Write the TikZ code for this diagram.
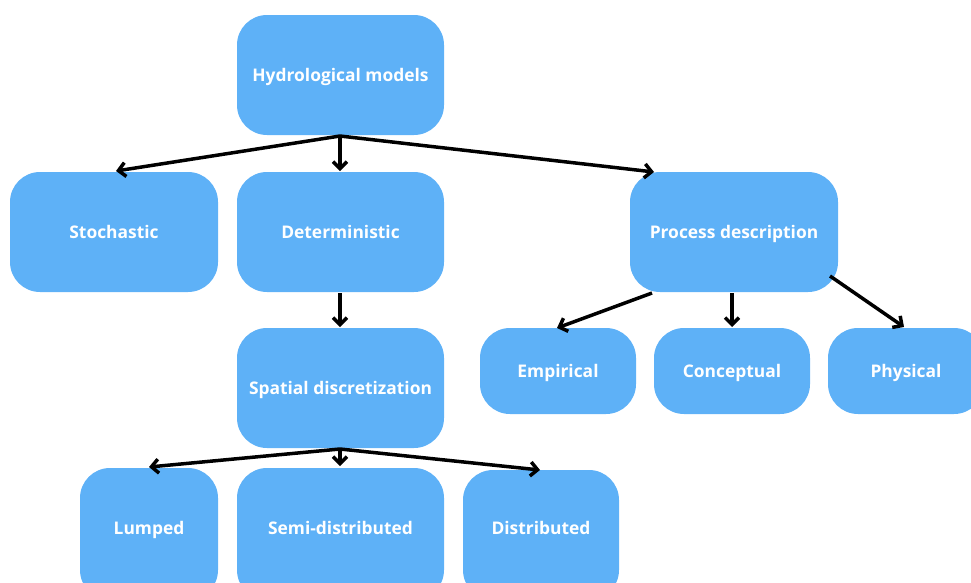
\documentclass[tikz,border=0pt]{standalone}
\usepackage{fontspec}
\setmainfont{Open Sans}
\usetikzlibrary{arrows.meta}
\definecolor{boxblue}{HTML}{5EB1F7}
\tikzset{
  box/.style={fill=boxblue, draw=none, rounded corners=30pt},
  lbl/.style={text=white, font=\fontsize{17.4}{20}\selectfont\bfseries, anchor=base, yshift=-6.5pt},
  conn/.style={line width=3.5pt, -{Straight Barb[length=7pt,width=14pt,line width=3.5pt]}, black},
}
\begin{document}
\begin{tikzpicture}[x=1pt,y=-1pt]
\useasboundingbox (0,0) rectangle (971,582);
% boxes
\path[box] (237,15) rectangle (444,135);
\node[lbl] (hm) at (340.5,75) {Hydrological models};
\coordinate (hms) at (340,136);
\path[box] (10,172) rectangle (218,292);
\node[lbl] (sto) at (114,232) {Stochastic};
\path[box] (237,172) rectangle (444,292);
\node[lbl] (det) at (340.5,232) {Deterministic};
\path[box] (630,172) rectangle (838,292);
\node[lbl] (pd) at (734,232) {Process description};
\path[box] (237,328) rectangle (444,448);
\node[lbl] (sd) at (340.5,388) {Spatial discretization};
\path[box] (480,328) rectangle (636,414);
\node[lbl] (emp) at (558,371) {Empirical};
\path[box] (654,328) rectangle (810,414);
\node[lbl] (con) at (732,371) {Conceptual};
\path[box] (828,328) rectangle (984,414);
\node[lbl] (phy) at (906,371) {Physical};
\path[box] (80,468) rectangle (218,600);
\node[lbl] (lum) at (149,528) {Lumped};
\path[box] (237,468) rectangle (444,600);
\node[lbl] (semi) at (340.5,528) {Semi-distributed};
\path[box] (463,470) rectangle (619,600);
\node[lbl] (dist) at (541,528) {Distributed};
% connector coordinates
\coordinate (stoT) at (116,171);
\coordinate (detT) at (340,171);
\coordinate (pdT) at (654,172);
\coordinate (dets) at (340,293);
\coordinate (sdT) at (340,327);
\coordinate (pdA) at (652,293);
\coordinate (pdB) at (732,293);
\coordinate (pdC) at (830,276);
\coordinate (empT) at (557,328);
\coordinate (conT) at (732,327);
\coordinate (phyT) at (904,327);
\coordinate (sds) at (340,449);
\coordinate (lumT) at (149,467);
\coordinate (semiT) at (340,466);
\coordinate (distT) at (540,470);
% connectors
\draw[conn] (hms) -- (stoT);
\draw[conn] (hms) -- (detT);
\draw[conn] (hms) -- (pdT);
\draw[conn] (dets) -- (sdT);
\draw[conn] (pdA) -- (empT);
\draw[conn] (pdB) -- (conT);
\draw[conn] (pdC) -- (phyT);
\draw[conn] (sds) -- (lumT);
\draw[conn] (sds) -- (semiT);
\draw[conn] (sds) -- (distT);
\end{tikzpicture}
\end{document}
